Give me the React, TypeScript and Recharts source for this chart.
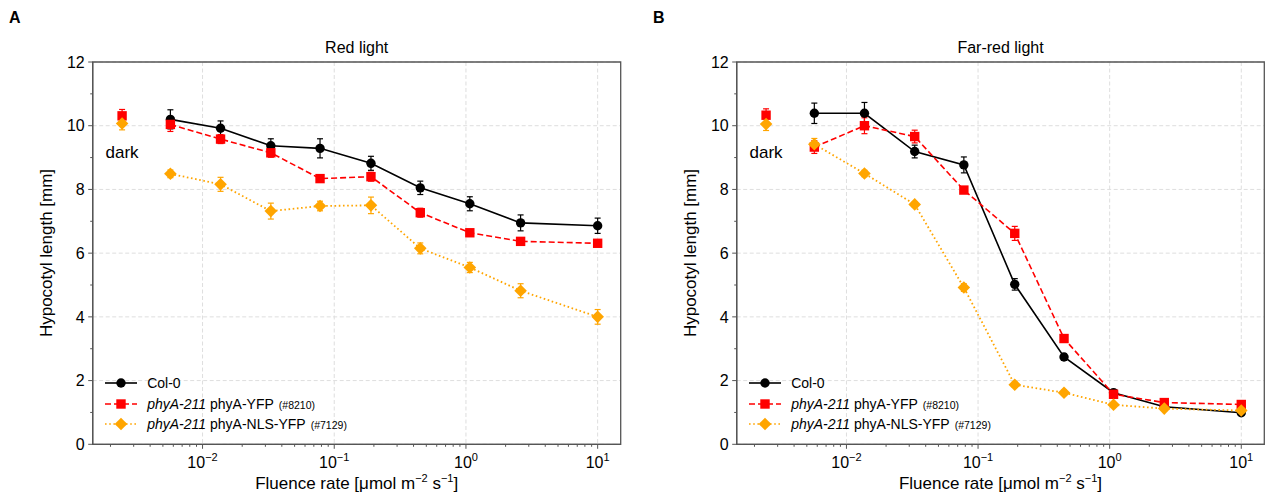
import React from "react";
import {
  LineChart,
  Line,
  XAxis,
  YAxis,
  CartesianGrid,
  ErrorBar,
  ReferenceArea,
  ReferenceDot,
} from "recharts";

// fluence rates (µmol m-2 s-1), shared by both panels
const fluence = [0.0057, 0.0137, 0.033, 0.078, 0.19, 0.45, 1.07, 2.6, 10];
const darkFluence = 0.00245;

// Red light panel
const redCol0 = [10.2, 9.92, 9.37, 9.29, 8.82, 8.05, 7.55, 6.95, 6.86];
const redCol0Err = [0.3, 0.23, 0.22, 0.3, 0.22, 0.21, 0.22, 0.25, 0.24];
const redYfp = [10.04, 9.58, 9.15, 8.34, 8.4, 7.27, 6.64, 6.37, 6.31];
const redYfpErr = [0.22, 0.14, 0.14, 0.12, 0.14, 0.14, 0.1, 0.1, 0.1];
const redNls = [8.49, 8.16, 7.32, 7.48, 7.5, 6.15, 5.55, 4.82, 4.0];
const redNlsErr = [0.12, 0.22, 0.25, 0.15, 0.26, 0.17, 0.16, 0.22, 0.23];
const redDark = [10.31, 10.07]; // yfp, nls
const redDarkErr = [0.2, 0.2];

// Far-red light panel
const farCol0 = [10.39, 10.39, 9.19, 8.77, 5.02, 2.74, 1.62, 1.18, 0.99];
const farCol0Err = [0.32, 0.34, 0.2, 0.25, 0.18, 0.1, 0.08, 0.06, 0.06];
const farYfp = [9.33, 10.0, 9.66, 7.98, 6.62, 3.32, 1.57, 1.31, 1.25];
const farYfpErr = [0.2, 0.25, 0.2, 0.1, 0.22, 0.12, 0.1, 0.08, 0.08];
const farNls = [9.42, 8.5, 7.53, 4.92, 1.87, 1.62, 1.24, 1.12, 1.06];
const farNlsErr = [0.18, 0.1, 0.08, 0.12, 0.08, 0.08, 0.06, 0.06, 0.06];
const farDark = [10.33, 10.05];
const farDarkErr = [0.2, 0.2];

const majorX = [0.01, 0.1, 1, 10];
const minorMult = [2, 3, 4, 5, 6, 7, 8, 9];
const decades = [0.001, 0.01, 0.1, 1];
const yTicks = [0, 1, 2, 3, 4, 5, 6, 7, 8, 9, 10, 11, 12];
const yMajor = [0, 2, 4, 6, 8, 10, 12];

const XMIN = Math.pow(10, -2.834);
const XMAX = Math.pow(10, 1.175);
const xTicks = [
  ...majorX,
  ...decades.flatMap((d) => minorMult.map((m) => m * d)).filter((v) => v > XMIN && v < XMAX),
].sort((a, b) => a - b);

const FONT = "'Liberation Sans', Arial, sans-serif";
const AXIS = "#555";
const GRID = "#dedede";
const RED = "#ff0000";
const ORANGE = "#ffa500";

const PANEL_W = 634;
const PLOT_TOP = 62;
const PLOT_BOTTOM = 444.3;
const X_AXIS_H = 40;
const Y_AXIS_W = 60;
const CAP = 3;

const renderXTick = (props: any) => {
  const { x, y, payload } = props;
  const lg = Math.log10(payload.value);
  const exp = Math.round(lg);
  const major = Math.abs(lg - exp) < 1e-6;
  return (
    <g>
      <line x1={x} x2={x} y1={y} y2={y + (major ? 4.5 : 2.5)} stroke={AXIS} strokeWidth={1} />
      {major && (
        <text x={x} y={y + 23.5} textAnchor="middle" fontSize={16} fill="#000" fontFamily={FONT}>
          10
          <tspan dy={-7} fontSize={11}>
            {exp < 0 ? `\u2212${-exp}` : `${exp}`}
          </tspan>
        </text>
      )}
    </g>
  );
};

const renderYTick = (props: any) => {
  const { x, y, payload } = props;
  const major = payload.value % 2 === 0;
  return (
    <g>
      <line x1={x - (major ? 4.5 : 2.5)} x2={x} y1={y} y2={y} stroke={AXIS} strokeWidth={1} />
      {major && (
        <text x={x - 8} y={y} dy="0.36em" textAnchor="end" fontSize={16} fill="#000" fontFamily={FONT}>
          {payload.value}
        </text>
      )}
    </g>
  );
};

const circleDot = (color: string) => (p: any) =>
  <circle key={`c${p.index}`} cx={p.cx} cy={p.cy} r={4.7} fill={color} />;
const squareDot = (color: string) => (p: any) =>
  <rect key={`s${p.index}`} x={p.cx - 4.7} y={p.cy - 4.7} width={9.4} height={9.4} fill={color} />;
const diamondDot = (color: string) => (p: any) => (
  <polygon
    key={`d${p.index}`}
    points={`${p.cx},${p.cy - 6.3} ${p.cx + 6.3},${p.cy} ${p.cx},${p.cy + 6.3} ${p.cx - 6.3},${p.cy}`}
    fill={color}
  />
);

const toSeries = (vals: number[], errs: number[]) =>
  fluence.map((x, i) => ({ x, y: vals[i], e: errs[i] }));

function LegendHandle({ color, dash, marker }: { color: string; dash?: string; marker: "circle" | "square" | "diamond" }) {
  return (
    <svg width={32} height={14} style={{ display: "block" }}>
      <line x1={0} x2={32} y1={7} y2={7} stroke={color} strokeWidth={1.6} strokeDasharray={dash} />
      {marker === "circle" && <circle cx={16} cy={7} r={4.7} fill={color} />}
      {marker === "square" && <rect x={11.3} y={2.3} width={9.4} height={9.4} fill={color} />}
      {marker === "diamond" && <polygon points="16,0.7 22.3,7 16,13.3 9.7,7" fill={color} />}
    </svg>
  );
}

function Legend({ left, top }: { left: number; top: number }) {
  const row: React.CSSProperties = { display: "flex", alignItems: "center", height: 20.7, fontSize: 14, whiteSpace: "nowrap" };
  const small: React.CSSProperties = { fontSize: 10.5, marginLeft: 5 };
  return (
    <div style={{ position: "absolute", left, top }}>
      <div style={row}>
        <LegendHandle color="#000" marker="circle" />
        <span style={{ marginLeft: 10 }}>Col-0</span>
      </div>
      <div style={row}>
        <LegendHandle color={RED} dash="6 3" marker="square" />
        <span style={{ marginLeft: 10 }}>
          <i>phyA-211</i> phyA-YFP<span style={small}>(#8210)</span>
        </span>
      </div>
      <div style={row}>
        <LegendHandle color={ORANGE} dash="1.6 2.6" marker="diamond" />
        <span style={{ marginLeft: 10 }}>
          <i>phyA-211</i> phyA-NLS-YFP<span style={small}>(#7129)</span>
        </span>
      </div>
    </div>
  );
}

type PanelProps = {
  left: number;
  plotLeft: number;
  plotRight: number;
  letter: string;
  title: string;
  col0: number[];
  col0Err: number[];
  yfp: number[];
  yfpErr: number[];
  nls: number[];
  nlsErr: number[];
  dark: number[];
  darkErr: number[];
};

function Panel(p: PanelProps) {
  const cx = (p.plotLeft + p.plotRight) / 2;
  const midY = (PLOT_TOP + PLOT_BOTTOM) / 2;
  return (
    <div style={{ position: "absolute", left: p.left, top: 0, width: PANEL_W, height: 500 }}>
      <LineChart
        width={PANEL_W}
        height={500}
        margin={{
          top: PLOT_TOP,
          right: PANEL_W - p.plotRight,
          bottom: 500 - PLOT_BOTTOM - X_AXIS_H,
          left: p.plotLeft - Y_AXIS_W,
        }}
      >
        <CartesianGrid
          stroke={GRID}
          strokeDasharray="4 2.5"
          horizontalValues={yMajor}
          verticalValues={majorX}
        />
        <XAxis
          dataKey="x"
          type="number"
          scale="log"
          domain={[XMIN, XMAX]}
          allowDataOverflow
          ticks={xTicks}
          interval={0}
          tick={renderXTick}
          tickLine={false}
          tickSize={0}
          tickMargin={0}
          axisLine={{ stroke: AXIS, strokeWidth: 1.3 }}
          height={X_AXIS_H}
        />
        <YAxis
          type="number"
          domain={[0, 12]}
          allowDataOverflow
          ticks={yTicks}
          interval={0}
          tick={renderYTick}
          tickLine={false}
          tickSize={0}
          tickMargin={0}
          axisLine={{ stroke: AXIS, strokeWidth: 1.3 }}
          width={Y_AXIS_W}
        />
        <ReferenceArea x1={XMIN} x2={XMAX} y1={0} y2={12} fill="none" fillOpacity={0} stroke={AXIS} strokeWidth={1.3} />
        <Line
          data={toSeries(p.col0, p.col0Err)}
          dataKey="y"
          stroke="#000"
          strokeWidth={1.6}
          dot={circleDot("#000")}
          activeDot={false}
          isAnimationActive={false}
        >
          <ErrorBar dataKey="e" direction="y" width={CAP} stroke="#000" strokeWidth={1.2} />
        </Line>
        <Line
          data={toSeries(p.yfp, p.yfpErr)}
          dataKey="y"
          stroke={RED}
          strokeWidth={1.6}
          strokeDasharray="6 3"
          dot={squareDot(RED)}
          activeDot={false}
          isAnimationActive={false}
        >
          <ErrorBar dataKey="e" direction="y" width={CAP} stroke={RED} strokeWidth={1.2} />
        </Line>
        <Line
          data={toSeries(p.nls, p.nlsErr)}
          dataKey="y"
          stroke={ORANGE}
          strokeWidth={1.8}
          strokeDasharray="1.6 2.6"
          dot={diamondDot(ORANGE)}
          activeDot={false}
          isAnimationActive={false}
        >
          <ErrorBar dataKey="e" direction="y" width={CAP} stroke={ORANGE} strokeWidth={1.2} />
        </Line>
        <Line
          data={[{ x: darkFluence, y: p.dark[0], e: p.darkErr[0] }]}
          dataKey="y"
          stroke="none"
          dot={squareDot(RED)}
          activeDot={false}
          isAnimationActive={false}
        >
          <ErrorBar dataKey="e" direction="y" width={CAP} stroke={RED} strokeWidth={1.2} />
        </Line>
        <Line
          data={[{ x: darkFluence, y: p.dark[1], e: p.darkErr[1] }]}
          dataKey="y"
          stroke="none"
          dot={diamondDot(ORANGE)}
          activeDot={false}
          isAnimationActive={false}
        >
          <ErrorBar dataKey="e" direction="y" width={CAP} stroke={ORANGE} strokeWidth={1.2} />
        </Line>
        <ReferenceDot
          x={darkFluence}
          y={9.17}
          r={0}
          fill="none"
          stroke="none"
          label={{ value: "dark", position: "center", fontSize: 17, fill: "#000", fontFamily: FONT }}
        />
      </LineChart>

      <div
        style={{
          position: "absolute",
          left: p.plotLeft - 78,
          top: 18,
          transform: "translate(-50%, -50%)",
          fontWeight: "bold",
          fontSize: 16,
          lineHeight: 1,
        }}
      >
        {p.letter}
      </div>
      <div
        style={{
          position: "absolute",
          left: cx,
          top: 48,
          transform: "translate(-50%, -50%)",
          fontSize: 16,
          lineHeight: 1,
          whiteSpace: "nowrap",
        }}
      >
        {p.title}
      </div>
      <div
        style={{
          position: "absolute",
          left: p.plotLeft - 47,
          top: midY,
          transform: "translate(-50%, -50%) rotate(-90deg)",
          fontSize: 17,
          lineHeight: 1,
          whiteSpace: "nowrap",
        }}
      >
        Hypocotyl length [mm]
      </div>
      <div
        style={{
          position: "absolute",
          left: cx,
          top: 483,
          transform: "translate(-50%, -50%)",
          fontSize: 17,
          lineHeight: 1,
          whiteSpace: "nowrap",
        }}
      >
        Fluence rate [μmol m<sup style={{ fontSize: 11, lineHeight: 0 }}>−2</sup> s
        <sup style={{ fontSize: 11, lineHeight: 0 }}>−1</sup>]
      </div>
      <Legend left={p.plotLeft + 12.5} top={372.5} />
    </div>
  );
}

export default function App() {
  return (
    <div
      style={{
        position: "absolute",
        left: 0,
        top: 0,
        width: 1268,
        height: 500,
        background: "#fff",
        fontFamily: FONT,
        color: "#000",
      }}
    >
      <Panel
        left={0}
        plotLeft={92.7}
        plotRight={620.7}
        letter="A"
        title="Red light"
        col0={redCol0}
        col0Err={redCol0Err}
        yfp={redYfp}
        yfpErr={redYfpErr}
        nls={redNls}
        nlsErr={redNlsErr}
        dark={redDark}
        darkErr={redDarkErr}
      />
      <Panel
        left={PANEL_W}
        plotLeft={102.7}
        plotRight={630.3}
        letter="B"
        title="Far-red light"
        col0={farCol0}
        col0Err={farCol0Err}
        yfp={farYfp}
        yfpErr={farYfpErr}
        nls={farNls}
        nlsErr={farNlsErr}
        dark={farDark}
        darkErr={farDarkErr}
      />
    </div>
  );
}
